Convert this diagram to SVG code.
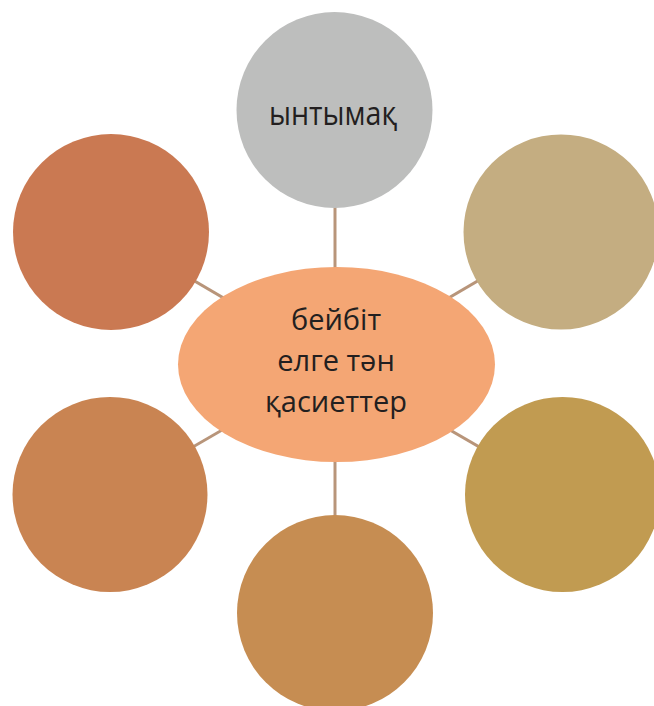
<svg xmlns="http://www.w3.org/2000/svg" width="654" height="706" viewBox="0 0 654 706">
<style>
.c{stroke:none}
.t{font-family:"Open Sans","Noto Sans","DejaVu Sans",sans-serif;fill:#231f20;text-anchor:middle}
.ln{stroke:#B8957A;stroke-width:3;fill:none}
</style>
<rect width="654" height="706" fill="#ffffff"/>
<g id="connectors">
<line class="ln" x1="335" y1="364" x2="335" y2="110"/>
<line class="ln" x1="335" y1="364" x2="335" y2="613"/>
<line class="ln" x1="336" y1="364" x2="111" y2="232"/>
<line class="ln" x1="336" y1="364" x2="561" y2="232"/>
<line class="ln" x1="336" y1="364" x2="110" y2="495"/>
<line class="ln" x1="336" y1="364" x2="562" y2="495"/>
</g>
<g id="node-top">
<circle class="c" cx="334.5" cy="110" r="98" fill="#BDBEBD"/>
<text class="t" x="333" y="124.5" font-size="33" textLength="128" lengthAdjust="spacingAndGlyphs">ынтымақ</text>
</g>
<g id="node-top-right"><circle class="c" cx="561" cy="232" r="97.5" fill="#C4AD81"/></g>
<g id="node-bottom-right"><circle class="c" cx="562.5" cy="494.5" r="97.5" fill="#C19B51"/></g>
<g id="node-bottom"><circle class="c" cx="335" cy="613" r="98" fill="#C68D52"/></g>
<g id="node-bottom-left"><circle class="c" cx="110" cy="494.5" r="97.5" fill="#C98452"/></g>
<g id="node-top-left"><circle class="c" cx="111" cy="232" r="98" fill="#CA7952"/></g>
<g id="node-center">
<ellipse class="c" cx="336.5" cy="364.5" rx="158.5" ry="97.5" fill="#F4A674"/>
<text class="t" font-size="29"><tspan x="336" y="330">бейбіт</tspan><tspan x="336" y="371">елге тән</tspan><tspan x="336" y="412">қасиеттер</tspan></text>
</g>
</svg>
